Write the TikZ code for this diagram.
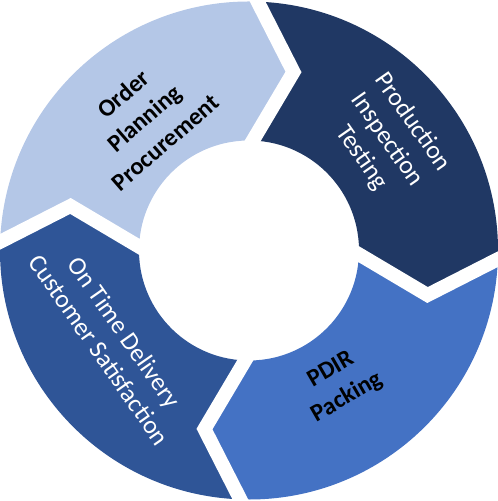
\documentclass[tikz,border=0pt]{standalone}
\usepackage{fontspec}
\setmainfont{Carlito}
\usetikzlibrary{calc}
\definecolor{segA}{HTML}{B4C7E7}
\definecolor{segB}{HTML}{203864}
\definecolor{segC}{HTML}{4472C4}
\definecolor{segD}{HTML}{2F5597}
\begin{document}
\begin{tikzpicture}[x=1pt,y=1pt,
  gapline/.style={white, line width=14pt, line join=miter},
  darklbl/.style={align=center, text=black, inner sep=0pt, font=\bfseries\fontsize{24.5}{32}\selectfont},
  lightlbl/.style={align=center, text=white, inner sep=0pt, font=\fontsize{25.5}{31}\selectfont}]
\useasboundingbox (0,0) rectangle (498,501);
\def\myRo{249pt}\def\myRi{110pt}\def\myRt{184pt}
\begin{scope}[shift={(249,250.5)}]
  % segments (clockwise flow), boundaries at 88, -2, -92, 178 deg
  \fill[segA] (178:\myRo) arc[start angle=178,end angle=88,radius=\myRo] -- (76:\myRt) -- (88:\myRi) arc[start angle=88,end angle=178,radius=\myRi] -- (166:\myRt) -- cycle;
  \fill[segB] (88:\myRo) arc[start angle=88,end angle=-2,radius=\myRo] -- (-14:\myRt) -- (-2:\myRi) arc[start angle=-2,end angle=88,radius=\myRi] -- (76:\myRt) -- cycle;
  \fill[segC] (-2:\myRo) arc[start angle=-2,end angle=-92,radius=\myRo] -- (-104:\myRt) -- (-92:\myRi) arc[start angle=-92,end angle=-2,radius=\myRi] -- (-14:\myRt) -- cycle;
  \fill[segD] (-92:\myRo) arc[start angle=-92,end angle=-182,radius=\myRo] -- (166:\myRt) -- (178:\myRi) arc[start angle=178,end angle=268,radius=\myRi] -- (-104:\myRt) -- cycle;
  % white gaps
  \foreach \b in {88,-2,-92,178}{
    \coordinate (tip) at (\b-12:\myRt);
    \draw[gapline] ($(tip)!1.2!(\b:\myRo)$) -- (tip) -- ($(tip)!1.3!(\b:\myRi)$);
  }
\end{scope}
\node[darklbl, rotate=41] (order) at (144,383) {Order\\Planning\\Procurement};
\node[lightlbl, rotate=-55] (production) at (387,361) {Production\\Inspection\\Testing};
\node[darklbl, rotate=30] (pdir) at (339,117) {PDIR\\Packing};
\node[lightlbl, rotate=-55] (delivery) at (112,160) {On Time Delivery\\Customer Satisfaction};
\end{tikzpicture}
\end{document}
